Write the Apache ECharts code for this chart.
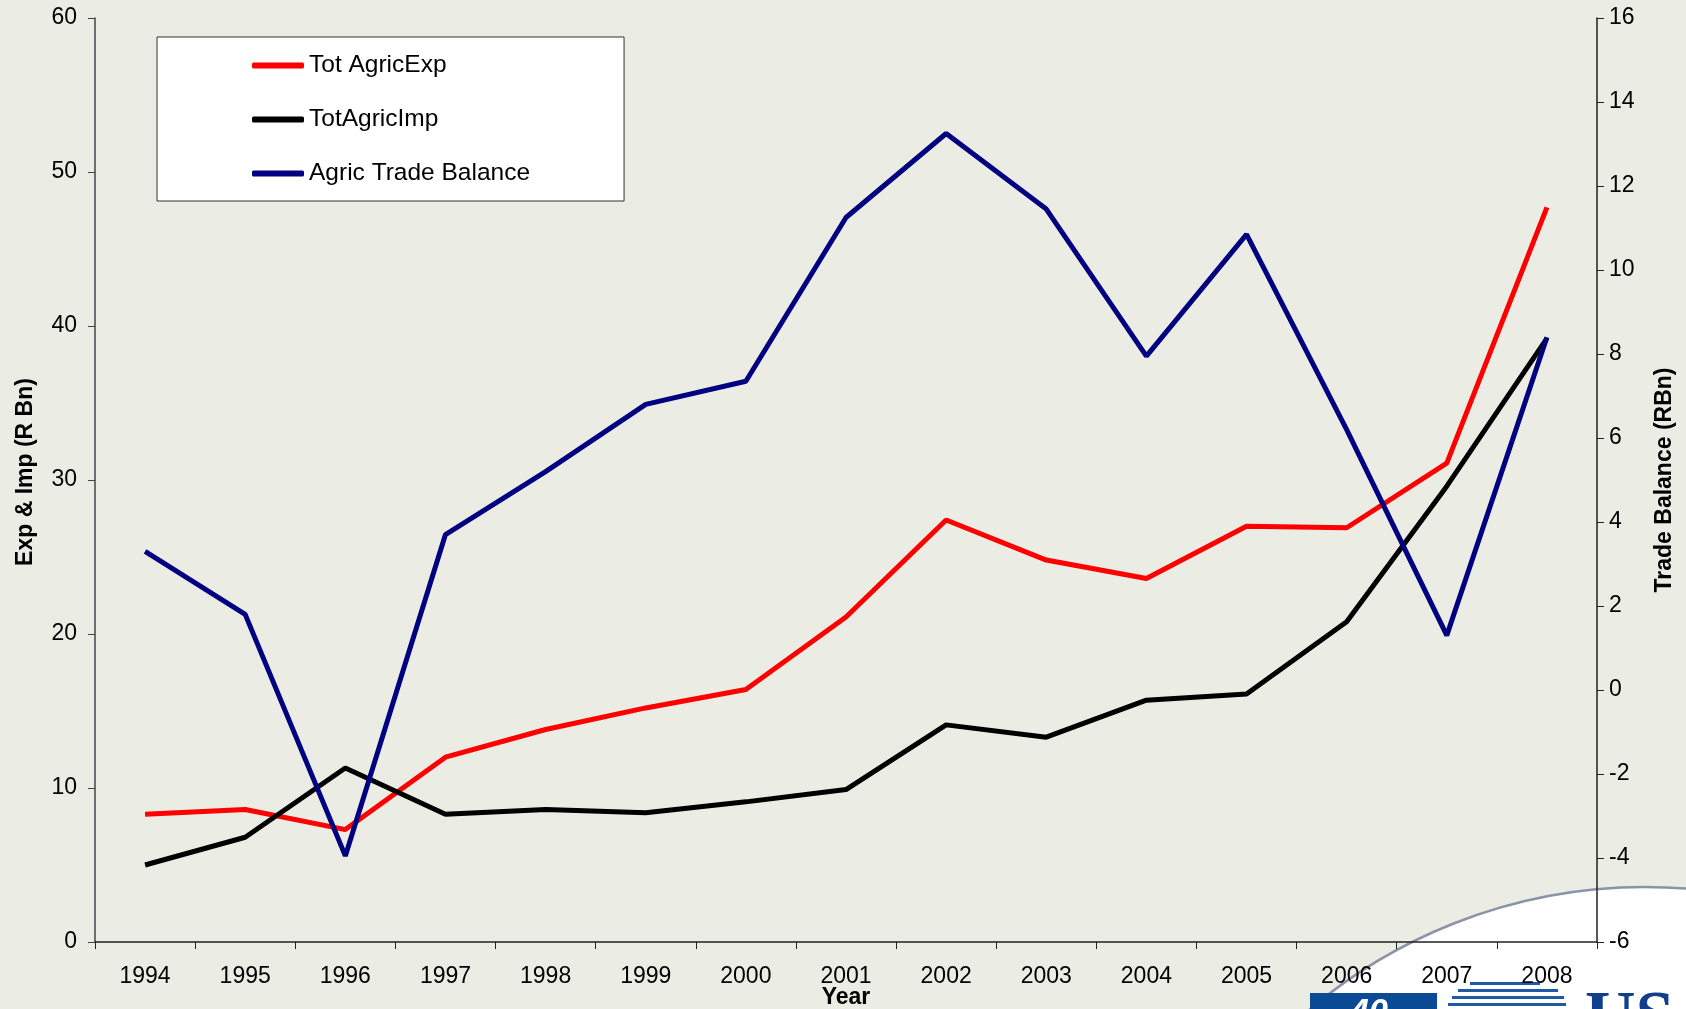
<!DOCTYPE html>
<html>
<head>
<meta charset="utf-8">
<script src="https://cdn.jsdelivr.net/npm/echarts@6/dist/echarts.min.js"></script>
<style>
  html, body { margin: 0; padding: 0; background: #ebece3; }
  #chart { width: 1686px; height: 1009px; }
</style>
</head>
<body>
<div id="chart"></div>
<script>
// 年份
const years = ["1994", "1995", "1996", "1997", "1998", "1999", "2000", "2001",
  "2002", "2003", "2004", "2005", "2006", "2007", "2008"];
// 出口 (R Bn)
const totAgricExp = [8.3, 8.6, 7.3, 12.0, 13.8, 15.2, 16.4, 21.1,
  27.4, 24.8, 23.6, 27.0, 26.9, 31.1, 47.7];
// 进口 (R Bn)
const totAgricImp = [5.0, 6.8, 11.3, 8.3, 8.6, 8.4, 9.1, 9.9,
  14.1, 13.3, 15.7, 16.1, 20.8, 29.6, 39.2];
// 贸易差额 (RBn)
const agricTradeBalance = [3.3, 1.8, -3.95, 3.7, 5.2, 6.8, 7.35, 11.25,
  13.25, 11.45, 7.95, 10.85, 6.2, 1.3, 8.4];

const chartDom = document.getElementById("chart");
const myChart = echarts.init(chartDom);

const font = "Liberation Sans, Arial, sans-serif";

const option = {
  backgroundColor: "#ebece3",
  animation: false,
  textStyle: { fontFamily: font, color: "#000" },
  graphic: [
    {
      type: "circle",
      z: -10,
      shape: { cx: 1645, cy: 1407, r: 520 },
      style: { fill: "#ffffff", stroke: "#8a93a8", lineWidth: 2.5 },
    },
    {
      type: "rect",
      z: -9,
      shape: { x: 1310, y: 993, width: 127, height: 20 },
      style: { fill: "#0b4a94" },
    },
    {
      type: "text",
      z: -8,
      left: 1350,
      top: 996,
      style: { text: "40", fill: "#ffffff", font: "italic bold 34px Liberation Sans" },
    },
    { type: "rect", z: -9, shape: { x: 1470, y: 982, width: 70, height: 3 }, style: { fill: "#1f5aa6" } },
    { type: "rect", z: -9, shape: { x: 1458, y: 989, width: 100, height: 3 }, style: { fill: "#1f5aa6" } },
    { type: "rect", z: -9, shape: { x: 1452, y: 996, width: 112, height: 3 }, style: { fill: "#1f5aa6" } },
    { type: "rect", z: -9, shape: { x: 1448, y: 1003, width: 118, height: 3 }, style: { fill: "#1f5aa6" } },
    {
      type: "text",
      z: -8,
      left: 1585,
      top: 986,
      style: { text: "US", fill: "#123f8c", font: "bold 70px Liberation Serif" },
    },
  ],
  legend: {
    orient: "vertical",
    left: 157,
    top: 37,
    backgroundColor: "#ffffff",
    borderColor: "#333333",
    borderWidth: 1,
    padding: [16, 94, 15, 95],
    itemGap: 29,
    itemWidth: 52,
    itemHeight: 6,
    icon: "roundRect",
    textStyle: { fontSize: 24.5, fontFamily: font, color: "#000" },
    data: ["Tot AgricExp", "TotAgricImp", "Agric Trade Balance"],
  },
  grid: {
    left: 95,
    right: 89,
    top: 18,
    bottom: 67,
    containLabel: false,
    outerBoundsMode: "none",
  },
  xAxis: {
    type: "category",
    data: years,
    boundaryGap: true,
    name: "Year",
    nameLocation: "middle",
    nameGap: 44,
    nameMoveOverlap: false,
    nameTextStyle: { fontSize: 23, fontWeight: "bold", fontFamily: font, color: "#000" },
    axisLine: { lineStyle: { color: "#222", width: 1.5 } },
    axisTick: { show: true, length: 7, alignWithLabel: false, lineStyle: { color: "#222" } },
    axisLabel: { fontSize: 23, margin: 23, color: "#000", interval: 0 },
    splitLine: { show: false },
  },
  yAxis: [
    {
      type: "value",
      min: 0,
      max: 60,
      interval: 10,
      position: "left",
      name: "Exp & Imp (R Bn)",
      nameLocation: "middle",
      nameGap: 58,
      nameTextStyle: { fontSize: 23, fontWeight: "bold", fontFamily: font, color: "#000", padding: [0, 0, 0, 16] },
      axisLine: { show: true, lineStyle: { color: "#444", width: 1.5 } },
      axisTick: { show: true, length: 7, lineStyle: { color: "#444" } },
      axisLabel: { fontSize: 23, margin: 18, color: "#000" },
      splitLine: { show: false },
    },
    {
      type: "value",
      min: -6,
      max: 16,
      interval: 2,
      position: "right",
      name: "Trade Balance (RBn)",
      nameLocation: "middle",
      nameGap: 56,
      nameTextStyle: { fontSize: 23, fontWeight: "bold", fontFamily: font, color: "#000" },
      axisLine: { show: true, lineStyle: { color: "#222", width: 1.5 } },
      axisTick: { show: true, length: 7, lineStyle: { color: "#222" } },
      axisLabel: { fontSize: 23, margin: 12, color: "#000" },
      splitLine: { show: false },
    },
  ],
  series: [
    {
      name: "Tot AgricExp",
      type: "line",
      yAxisIndex: 0,
      data: totAgricExp,
      showSymbol: false,
      symbol: "none",
      lineStyle: { color: "#ff0000", width: 5 },
      itemStyle: { color: "#ff0000" },
      z: 3,
    },
    {
      name: "TotAgricImp",
      type: "line",
      yAxisIndex: 0,
      data: totAgricImp,
      showSymbol: false,
      symbol: "none",
      lineStyle: { color: "#000000", width: 5 },
      itemStyle: { color: "#000000" },
      z: 4,
    },
    {
      name: "Agric Trade Balance",
      type: "line",
      yAxisIndex: 1,
      data: agricTradeBalance,
      showSymbol: false,
      symbol: "none",
      lineStyle: { color: "#000080", width: 5 },
      itemStyle: { color: "#000080" },
      z: 5,
    },
  ],
};

myChart.setOption(option);
window.addEventListener("resize", () => myChart.resize());
</script>
</body>
</html>
